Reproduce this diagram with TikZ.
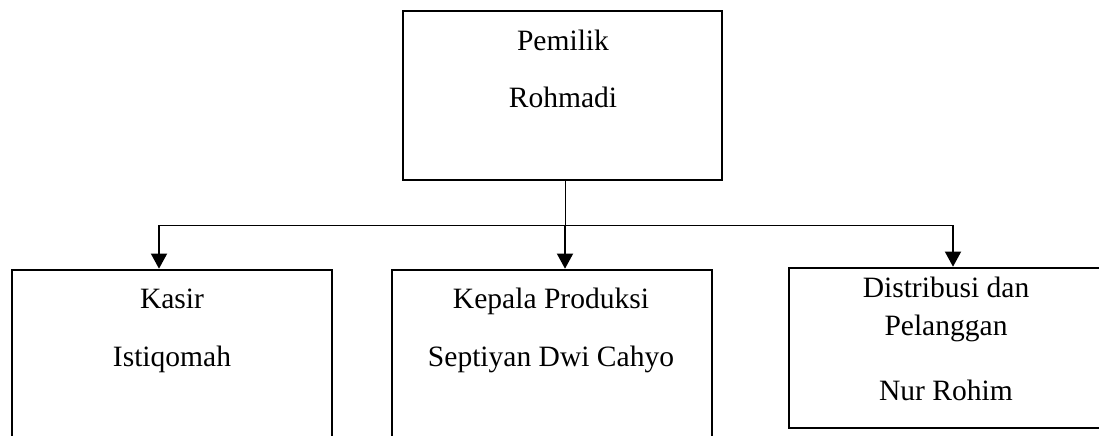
\documentclass[tikz,border=0pt]{standalone}
\usepackage{fontspec}
\setmainfont{Liberation Serif}
\usetikzlibrary{arrows.meta,positioning}

\begin{document}
\begin{tikzpicture}[x=0.025cm,y=-0.025cm,
    box/.style={draw, line width=1.8pt, inner sep=0pt},
    jabatan/.style={font=\fontsize{21}{25}\selectfont, anchor=base},
    link/.style={line width=0.7pt},
    turun/.style={line width=1.4pt, -{Triangle[width=0.4cm, length=0.38cm]}}]
  \clip (0,0) rectangle (1099,435);

  % boxes
  \node [box, minimum width=7.975cm, minimum height=4.225cm](pemilik) at (562.5,95.5) {};
  \node [box, minimum width=8cm, minimum height=4.375cm](kasir) at (172,357.5) {};
  \node [box, minimum width=8cm, minimum height=4.375cm](produksi) at (552,357.5) {};
  \node [box, minimum width=8.5cm, minimum height=4cm](distribusi) at (959,348) {};

  % texts
  \node [jabatan](pemilik1) at (563,50) {Pemilik};
  \node [jabatan](pemilik2) at (563,107) {Rohmadi};
  \node [jabatan](kasir1) at (172,308) {Kasir};
  \node [jabatan](kasir2) at (172,366) {Istiqomah};
  \node [jabatan](produksi1) at (551,308) {Kepala Produksi};
  \node [jabatan](produksi2) at (551,366) {Septiyan Dwi Cahyo};
  \node [jabatan](distribusi1) at (946,297) {Distribusi dan};
  \node [jabatan](distribusi2) at (946,335) {Pelanggan};
  \node [jabatan](distribusi3) at (946,400) {Nur Rohim};

  % connectors
  \coordinate (tengah) at (565,225);
  \coordinate (kiri) at (159,225);
  \coordinate (kanan) at (953,225);
  \draw[link] (pemilik.south -| tengah) -- (tengah);
  \draw[link] (kiri) -- (kanan);
  \draw[turun] (kiri) -- (kasir.north -| kiri);
  \draw[turun] (tengah) -- (produksi.north -| tengah);
  \draw[turun] (kanan) -- (distribusi.north -| kanan);
\end{tikzpicture}
\end{document}
